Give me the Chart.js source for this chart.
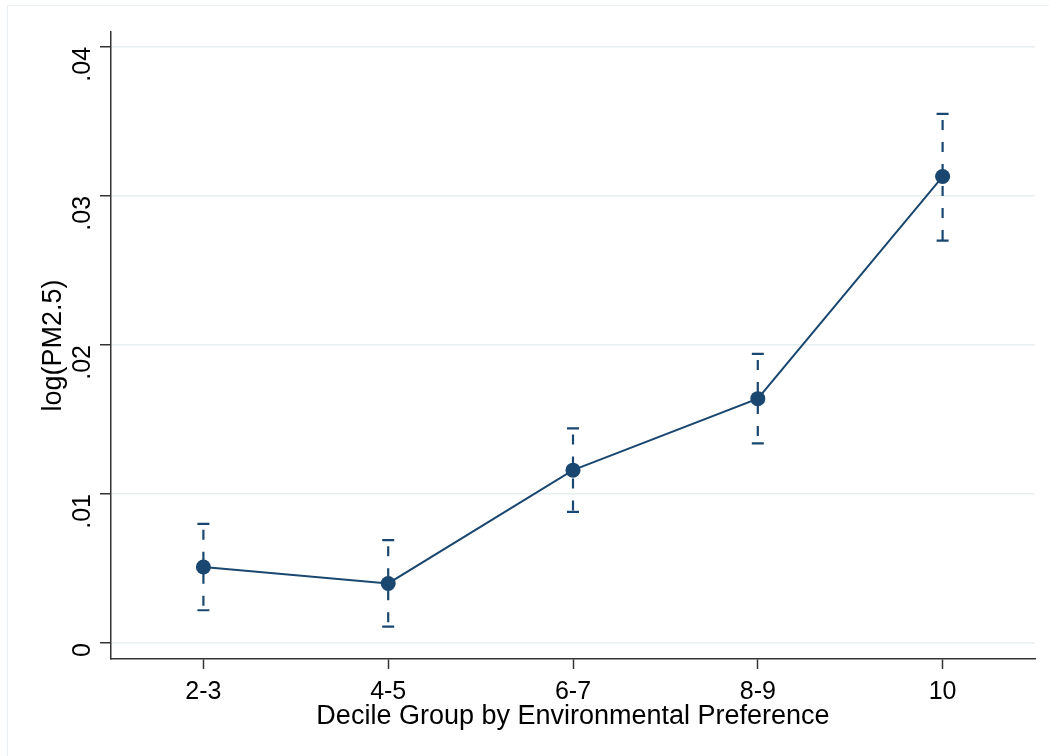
<!DOCTYPE html>
<html>
<head>
<meta charset="utf-8">
<script src="https://cdn.jsdelivr.net/npm/chart.js@4.4.1/dist/chart.umd.min.js"></script>
<style>
  html, body { margin: 0; padding: 0; background: #ffffff; }
  #wrap { position: relative; width: 1049px; height: 756px; }
  #frame { position: absolute; left: 7px; top: 5px; width: 1060px; height: 800px;
           border: 1.5px solid #e9eff2; box-sizing: border-box; pointer-events: none; }
  canvas { position: absolute; left: 0; top: 0; }
</style>
</head>
<body>
<div id="wrap">
  <div id="frame"></div>
  <canvas id="c" width="1049" height="756"></canvas>
</div>
<script>
// Decile groups and estimated effect on log(PM2.5) with 95% intervals
const groups = ['2-3', '4-5', '6-7', '8-9', '10'];
const estimate = [0.0051, 0.0040, 0.0116, 0.0164, 0.0313];
const lower    = [0.0022, 0.0011, 0.0088, 0.0134, 0.0270];
const upper    = [0.0080, 0.0069, 0.0144, 0.0194, 0.0355];
const yTicks   = [0, 0.01, 0.02, 0.03, 0.04];
const yTickLabels = ['0', '.01', '.02', '.03', '.04'];

const navy = '#1a476f';
const FAMILY = '"Liberation Sans", Arial, sans-serif';
const TICK_FONT = { family: FAMILY, size: 25 };
const TITLE_FONT = { family: FAMILY, size: 27 };

// Dashed confidence-interval whiskers with end caps
const ciBars = {
  id: 'ciBars',
  beforeDatasetsDraw(chart) {
    const { ctx, scales: { x, y } } = chart;
    ctx.save();
    ctx.strokeStyle = navy;
    ctx.lineWidth = 2.2;
    groups.forEach((g, i) => {
      const px = x.getPixelForValue(i);
      const top = y.getPixelForValue(upper[i]);
      const bot = y.getPixelForValue(lower[i]);
      ctx.setLineDash([0, 6, 10, 6]);
      ctx.beginPath();
      ctx.moveTo(px, top);
      ctx.lineTo(px, bot);
      ctx.stroke();
      ctx.setLineDash([]);
      ctx.beginPath();
      ctx.moveTo(px - 6, top); ctx.lineTo(px + 6, top);
      ctx.moveTo(px - 6, bot); ctx.lineTo(px + 6, bot);
      ctx.stroke();
    });
    ctx.restore();
  }
};

new Chart(document.getElementById('c'), {
  type: 'line',
  data: {
    labels: groups,
    datasets: [{
      data: estimate,
      borderColor: navy,
      backgroundColor: navy,
      borderWidth: 2,
      pointRadius: 7.5,
      pointHoverRadius: 7.5,
      pointBackgroundColor: navy,
      pointBorderWidth: 0,
      tension: 0
    }]
  },
  plugins: [ciBars],
  options: {
    responsive: false,
    animation: false,
    events: [],
    layout: { padding: { top: 32, right: 14, left: 0, bottom: 0 } },
    plugins: { legend: { display: false }, tooltip: { enabled: false } },
    scales: {
      x: {
        type: 'category',
        offset: true,
        border: { display: true, color: '#333333', width: 1.5 },
        grid: { display: true, drawOnChartArea: false, drawTicks: true, tickLength: 10, tickColor: '#333333', tickWidth: 1.5 },
        ticks: { color: '#000', font: TICK_FONT, padding: 8, maxRotation: 0, minRotation: 0 },
        title: { display: true, text: 'Decile Group by Environmental Preference', color: '#000', font: TITLE_FONT, padding: { top: 0, bottom: 23 } },
        afterFit(scale) { scale.height = 97; }
      },
      y: {
        type: 'linear',
        min: -0.00107,
        max: 0.041,
        border: { display: true, color: '#333333', width: 1.5 },
        grid: { color: '#e8eff1', lineWidth: 1.5, drawTicks: true, tickLength: 11, tickColor: '#333333', tickWidth: 1.5 },
        ticks: {
          color: '#000', font: TICK_FONT, padding: 17, minRotation: 90, maxRotation: 90, includeBounds: false,
          callback: (v) => { const i = yTicks.findIndex(t => Math.abs(t - v) < 1e-9); return i >= 0 ? yTickLabels[i] : ''; }
        },
        afterBuildTicks(scale) { scale.ticks = yTicks.map(v => ({ value: v })); },
        title: { display: true, text: 'log(PM2.5)', color: '#000', font: TITLE_FONT, padding: { top: 37, bottom: 0 } },
        afterFit(scale) { scale.width = 111; }
      }
    }
  }
});
</script>
</body>
</html>
